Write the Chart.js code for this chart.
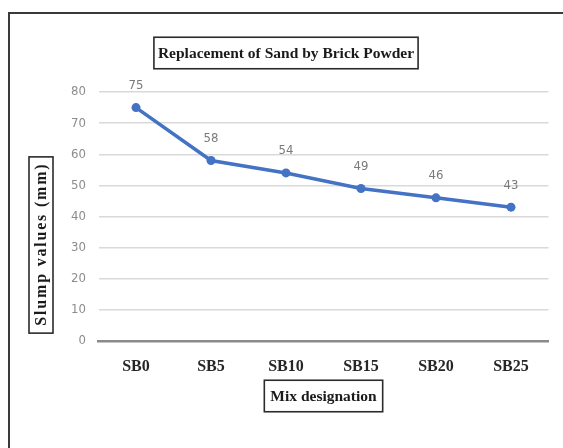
<!DOCTYPE html>
<html>
<head>
<meta charset="utf-8">
<script src="https://cdn.jsdelivr.net/npm/chart.js@4.4.1/dist/chart.umd.min.js"></script>
<style>
  html, body { margin: 0; padding: 0; background: #ffffff; }
  #wrap { width: 563px; height: 448px; position: relative; }
</style>
</head>
<body>
<div id="wrap"><canvas id="c" width="563" height="448"></canvas></div>
<script>
// Slump test results for mixes with brick powder replacing sand
const mixes = ['SB0', 'SB5', 'SB10', 'SB15', 'SB20', 'SB25'];
const slump = [75, 58, 54, 49, 46, 43];
const yTicks = [0, 10, 20, 30, 40, 50, 60, 70, 80];

const chartTitle = 'Replacement of Sand by Brick Powder';
const xTitle = 'Mix designation';
const yTitle = 'Slump values (mm)';

const serifBold = 'bold {s}px "Liberation Serif", "Times New Roman", serif';
const narrow = '"Liberation Sans Narrow", "DejaVu Sans Condensed", "Roboto", sans-serif';

function serif(size) { return serifBold.replace('{s}', size); }

// text with a thin rectangle drawn around it
function boxedText(ctx, text, cx, cy, size, padX, padY, vertical, spacing) {
  ctx.save();
  ctx.font = serif(size);
  ctx.letterSpacing = (spacing || 0) + 'px';
  const w = ctx.measureText(text).width - (spacing || 0);
  const h = size;
  ctx.translate(cx, cy);
  if (vertical) ctx.rotate(-Math.PI / 2);
  ctx.fillStyle = '#1a1a1a';
  ctx.textAlign = 'center';
  ctx.textBaseline = 'middle';
  ctx.fillText(text, (spacing || 0) / 2, 1);
  ctx.strokeStyle = '#2b2b2b';
  ctx.lineWidth = 1.6;
  ctx.strokeRect(-w / 2 - padX, -h / 2 - padY, w + 2 * padX, h + 2 * padY);
  ctx.restore();
}

const decorations = {
  id: 'decorations',
  afterDraw(chart) {
    const ctx = chart.ctx;
    const area = chart.chartArea;
    ctx.save();
    // frame lines along the top and left
    ctx.strokeStyle = '#3a3a3a';
    ctx.lineWidth = 2;
    ctx.beginPath();
    ctx.moveTo(9, chart.height);
    ctx.lineTo(9, 13);
    ctx.lineTo(chart.width, 13);
    ctx.stroke();
    ctx.restore();

    boxedText(ctx, chartTitle, (9 + chart.width) / 2, 53, 15.5, 4, 8, false, 0);
    boxedText(ctx, xTitle, (area.left + area.right) / 2, 396, 15.5, 6, 8, false, 0);
    boxedText(ctx, yTitle, 41, 245, 16, 7.5, 4, true, 1.8);
  },
  afterDatasetsDraw(chart) {
    const ctx = chart.ctx;
    const meta = chart.getDatasetMeta(0);
    ctx.save();
    ctx.font = '13px ' + narrow;
    ctx.fillStyle = '#7a7a7a';
    ctx.textAlign = 'center';
    ctx.textBaseline = 'middle';
    meta.data.forEach((pt, i) => {
      ctx.fillText(String(chart.data.datasets[0].data[i]), pt.x, pt.y - 22);
    });
    ctx.restore();
  }
};

new Chart(document.getElementById('c'), {
  type: 'line',
  data: {
    labels: mixes,
    datasets: [{
      label: yTitle,
      data: slump,
      borderColor: '#4472C4',
      backgroundColor: '#4472C4',
      borderWidth: 3.5,
      pointRadius: 4.5,
      pointBorderWidth: 0,
      pointBackgroundColor: '#4472C4',
      tension: 0,
      clip: false
    }]
  },
  options: {
    responsive: false,
    animation: false,
    devicePixelRatio: 1,
    layout: { padding: { left: 0, right: 14.5, top: 92, bottom: 0 } },
    plugins: {
      legend: { display: false },
      title: { display: false },
      tooltip: { enabled: false }
    },
    scales: {
      x: {
        offset: true,
        grid: { display: false, drawTicks: false, offset: true },
        border: { display: true, color: '#8a8a8a', width: 2.5 },
        ticks: {
          padding: 16,
          color: '#262626',
          font: { family: '"Liberation Serif", "Times New Roman", serif', size: 16, weight: 'bold' }
        },
        afterFit(scale) { scale.height = 107; }
      },
      y: {
        min: 0,
        max: 80,
        afterBuildTicks(scale) { scale.ticks = yTicks.map(v => ({ value: v })); },
        grid: {
          drawTicks: false,
          color: ctx => (ctx.tick && ctx.tick.value === 0) ? 'rgba(0,0,0,0)' : '#d9d9d9',
          lineWidth: 1.5
        },
        border: { display: false },
        ticks: {
          padding: 12.5,
          color: '#8c8c8c',
          font: { family: narrow, size: 13 }
        },
        afterFit(scale) { scale.width = 98.5; }
      }
    }
  },
  plugins: [decorations]
});
</script>
</body>
</html>
